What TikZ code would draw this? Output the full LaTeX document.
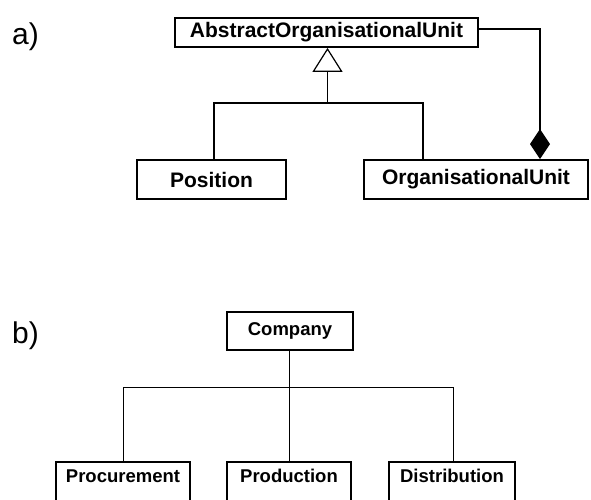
\documentclass[tikz,border=0pt]{standalone}
\usepackage{fontspec}
\setmainfont{Liberation Sans}
\usetikzlibrary{arrows.meta}
\begin{document}
\begin{tikzpicture}[x=1pt,y=-1pt,
  cls/.style={draw, line width=1.8pt, inner sep=0pt, anchor=center,
    font=\fontsize{21}{25}\selectfont\bfseries},
  unit/.style={cls, font=\fontsize{18.5}{22}\selectfont\bfseries},
  conn/.style={line width=1.2pt},
  tag/.style={anchor=west, inner sep=0pt, font=\fontsize{30}{34}\selectfont}]
\useasboundingbox (0,0) rectangle (591,499);

% a) generalisation and composition
\node[tag] (la) at (12,37) {a)};
\node[cls, minimum width=303, minimum height=29] (aou) at (326.5,32.5) {AbstractOrganisationalUnit};
\node[cls, minimum width=149, minimum height=39] (pos) at (211.5,179.5) {Position};
\node[cls, minimum width=224, minimum height=39] (ou) at (476,179.5) {OrganisationalUnit};

\coordinate (gen) at (327.5,103);
\draw[conn] ([xshift=2.5]pos.north) |- (gen) -| ([xshift=-53]ou.north);
\draw[conn, -{Triangle[open, length=24, width=30, line width=1.2pt]}] (gen) -- (aou.south -| gen);
\coordinate (comp) at (540,29);
\draw[conn, -{Diamond[length=30, width=20]}] (aou.east |- comp) -- (comp) -- (ou.north -| comp);

% b) organisation chart
\node[tag] (lb) at (12,336) {b)};
\node[unit, minimum width=126, minimum height=38] (comp0) at (290,331) {Company};
\tikzset{leaf/.style={unit, minimum width=#1, text height=20pt, text depth=20pt}}
\node[leaf=134] (proc) at (123,482) {Procurement};
\node[leaf=124] (prod) at (289,482) {Production};
\node[leaf=126] (dist) at (452,482) {Distribution};

\coordinate (bus) at (289,387);
\draw[conn, line width=1pt] (comp0.south -| bus) -- (bus);
\draw[conn, line width=1pt] (proc.north) |- (bus) -| ([xshift=1]dist.north);
\draw[conn, line width=1pt] (bus) -- (prod.north);
\end{tikzpicture}
\end{document}
